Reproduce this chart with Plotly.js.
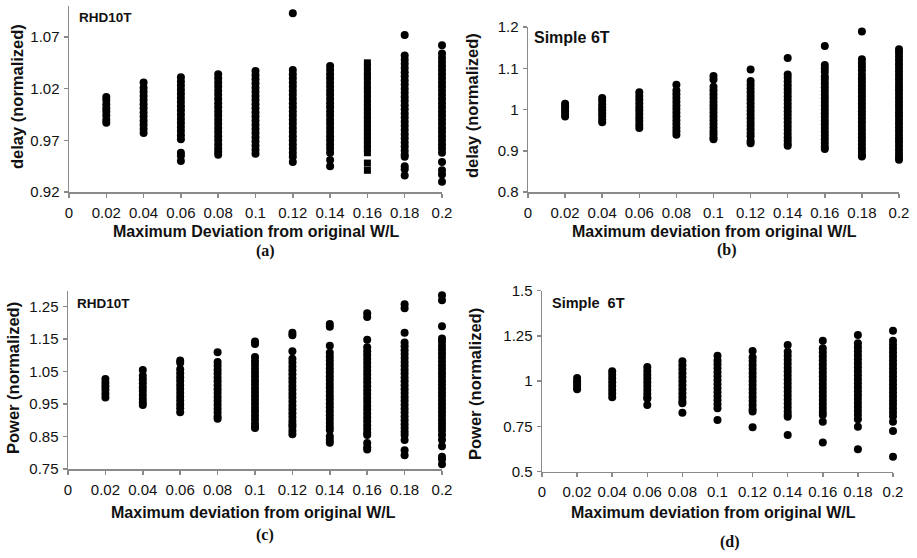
<!DOCTYPE html>
<html>
<head>
<meta charset="utf-8">
<script src="https://cdn.plot.ly/plotly-3.0.1.min.js"></script>
<style>html,body{margin:0;padding:0;background:#fff;}#chart{width:917px;height:558px;}</style>
</head>
<body>
<div id="chart"></div>
<script>
// x categories: maximum deviation from original W/L
const xVals = [0.02, 0.04, 0.06, 0.08, 0.1, 0.12, 0.14, 0.16, 0.18, 0.2];
const xTickVals = [0, 0.02, 0.04, 0.06, 0.08, 0.1, 0.12, 0.14, 0.16, 0.18, 0.2];
const xTickText = ["0", "0.02", "0.04", "0.06", "0.08", "0.1", "0.12", "0.14", "0.16", "0.18", "0.2"];

// (a) delay (normalized), RHD10T — one list per x value
const delayRHD10T = [
  [1.012,1.009,1.005,1.001,0.998,0.994,0.990,0.987],
  [1.026,1.021,1.017,1.013,1.009,1.005,1.001,0.997,0.993,0.989,0.985,0.981,0.977],
  [1.031,1.027,1.023,1.019,1.015,1.011,1.007,1.003,0.999,0.995,0.991,0.987,0.983,0.979,0.975,0.971,0.958,0.955,0.950],
  [1.034,1.030,1.026,1.022,1.018,1.014,1.010,1.006,1.002,0.998,0.994,0.990,0.986,0.982,0.978,0.974,0.970,0.966,0.962,0.959,0.956],
  [1.037,1.033,1.029,1.025,1.021,1.017,1.013,1.009,1.005,1.001,0.997,0.993,0.989,0.985,0.981,0.977,0.973,0.969,0.965,0.961,0.957],
  [1.093,1.038,1.034,1.030,1.026,1.022,1.018,1.014,1.010,1.006,1.002,0.998,0.994,0.990,0.986,0.982,0.978,0.974,0.970,0.966,0.962,0.958,0.954,0.949],
  [1.042,1.038,1.034,1.030,1.026,1.022,1.018,1.014,1.010,1.006,1.002,0.998,0.994,0.990,0.986,0.982,0.978,0.974,0.970,0.966,0.962,0.958,0.951,0.945],
  [1.045,1.041,1.036,1.032,1.028,1.023,1.019,1.015,1.010,1.006,1.002,0.998,0.994,0.990,0.986,0.982,0.978,0.974,0.970,0.966,0.962,0.958,0.948,0.941],
  [1.072,1.052,1.048,1.044,1.040,1.036,1.032,1.028,1.024,1.020,1.016,1.012,1.008,1.004,1.000,0.996,0.992,0.988,0.984,0.980,0.976,0.972,0.968,0.964,0.960,0.956,0.954,0.945,0.942,0.936],
  [1.062,1.054,1.050,1.046,1.042,1.038,1.034,1.030,1.026,1.022,1.018,1.014,1.010,1.006,1.002,0.998,0.994,0.990,0.986,0.982,0.978,0.974,0.970,0.966,0.962,0.958,0.949,0.941,0.937,0.930]
];

// (b) delay (normalized), Simple 6T
const delaySimple6T = [
  [1.014,1.008,1.001,0.995,0.989,0.983],
  [1.028,1.021,1.013,1.005,0.998,0.991,0.984,0.976,0.969],
  [1.042,1.033,1.024,1.015,1.006,0.998,0.989,0.980,0.972,0.963,0.955],
  [1.060,1.046,1.037,1.028,1.019,1.010,1.001,0.992,0.983,0.974,0.965,0.956,0.947,0.939],
  [1.081,1.073,1.055,1.046,1.037,1.028,1.019,1.010,1.001,0.992,0.983,0.974,0.965,0.956,0.947,0.940,0.932,0.928],
  [1.097,1.069,1.060,1.051,1.042,1.033,1.024,1.015,1.006,0.997,0.988,0.979,0.970,0.961,0.952,0.943,0.935,0.924,0.918],
  [1.125,1.085,1.077,1.068,1.059,1.050,1.041,1.032,1.023,1.014,1.005,0.996,0.987,0.978,0.969,0.960,0.951,0.942,0.933,0.925,0.917,0.912],
  [1.154,1.108,1.100,1.091,1.080,1.072,1.063,1.054,1.045,1.036,1.027,1.018,1.009,1.000,0.991,0.982,0.973,0.964,0.955,0.946,0.937,0.928,0.919,0.910,0.904],
  [1.189,1.122,1.113,1.104,1.095,1.085,1.076,1.067,1.058,1.050,1.041,1.032,1.023,1.014,1.005,0.996,0.987,0.978,0.969,0.960,0.951,0.942,0.933,0.924,0.915,0.906,0.898,0.890,0.886],
  [1.146,1.138,1.129,1.120,1.110,1.101,1.092,1.083,1.074,1.065,1.056,1.047,1.038,1.029,1.020,1.011,1.002,0.993,0.984,0.975,0.966,0.957,0.948,0.939,0.930,0.921,0.912,0.903,0.894,0.885,0.878]
];

// (c) power (normalized), RHD10T
const powerRHD10T = [
  [1.027,1.016,1.005,0.994,0.982,0.970],
  [1.055,1.037,1.026,1.014,1.002,0.990,0.978,0.966,0.955,0.947],
  [1.084,1.077,1.057,1.045,1.033,1.021,1.009,0.997,0.985,0.973,0.961,0.949,0.937,0.925],
  [1.110,1.080,1.068,1.056,1.044,1.032,1.020,1.008,0.996,0.984,0.972,0.960,0.948,0.936,0.924,0.912,0.905],
  [1.143,1.135,1.095,1.083,1.071,1.059,1.047,1.035,1.023,1.011,0.999,0.987,0.975,0.963,0.951,0.939,0.927,0.915,0.903,0.890,0.880,0.876],
  [1.170,1.162,1.113,1.090,1.078,1.066,1.054,1.042,1.030,1.018,1.006,0.994,0.982,0.970,0.958,0.946,0.934,0.922,0.910,0.898,0.888,0.880,0.868,0.857],
  [1.197,1.188,1.130,1.108,1.096,1.084,1.072,1.060,1.048,1.036,1.024,1.012,1.000,0.988,0.976,0.964,0.952,0.940,0.928,0.916,0.904,0.892,0.880,0.870,0.851,0.840,0.831],
  [1.230,1.218,1.148,1.125,1.113,1.101,1.089,1.077,1.065,1.053,1.041,1.029,1.017,1.005,0.993,0.981,0.969,0.957,0.945,0.933,0.921,0.909,0.897,0.885,0.873,0.862,0.855,0.830,0.817,0.810],
  [1.258,1.245,1.170,1.140,1.128,1.116,1.104,1.092,1.080,1.068,1.056,1.044,1.032,1.020,1.008,0.996,0.984,0.972,0.960,0.948,0.936,0.924,0.912,0.900,0.888,0.876,0.865,0.855,0.839,0.808,0.792],
  [1.285,1.270,1.190,1.152,1.142,1.130,1.118,1.106,1.094,1.082,1.070,1.058,1.046,1.034,1.022,1.010,0.998,0.986,0.974,0.962,0.950,0.938,0.926,0.914,0.902,0.890,0.879,0.868,0.855,0.840,0.820,0.788,0.780,0.765]
];

// (d) power (normalized), Simple 6T
const powerSimple6T = [
  [1.018,1.000,0.985,0.970,0.955],
  [1.055,1.035,1.015,0.994,0.974,0.953,0.932,0.912],
  [1.078,1.057,1.036,1.015,0.994,0.973,0.952,0.931,0.910,0.905,0.868],
  [1.110,1.088,1.066,1.044,1.022,1.000,0.978,0.956,0.934,0.912,0.890,0.878,0.826],
  [1.141,1.115,1.093,1.071,1.049,1.027,1.005,0.983,0.961,0.939,0.917,0.895,0.873,0.850,0.785],
  [1.167,1.133,1.111,1.089,1.067,1.045,1.023,1.001,0.979,0.957,0.935,0.913,0.891,0.869,0.847,0.832,0.745],
  [1.200,1.163,1.141,1.119,1.097,1.075,1.053,1.031,1.009,0.987,0.965,0.943,0.921,0.899,0.877,0.855,0.833,0.815,0.804,0.703],
  [1.224,1.182,1.160,1.138,1.116,1.094,1.072,1.050,1.028,1.006,0.984,0.962,0.940,0.918,0.896,0.874,0.852,0.830,0.813,0.776,0.662],
  [1.255,1.209,1.187,1.165,1.143,1.121,1.099,1.077,1.055,1.033,1.011,0.989,0.967,0.945,0.923,0.901,0.879,0.857,0.835,0.813,0.790,0.749,0.624],
  [1.279,1.224,1.202,1.180,1.158,1.136,1.114,1.092,1.070,1.048,1.026,1.004,0.982,0.960,0.938,0.916,0.894,0.872,0.850,0.828,0.806,0.776,0.725,0.583]
];

const W = 917, H = 558;
const MS = 8;

function flatten(cols, skip) {
  const xs = [], ys = [];
  cols.forEach((col, i) => {
    if (skip && skip.includes(i)) return;
    col.forEach(v => { xs.push(xVals[i]); ys.push(v); });
  });
  return {x: xs, y: ys};
}
function trace(cols, xa, ya, symbol, skip, only) {
  let d;
  if (only !== undefined) {
    d = {x: cols[only].map(() => xVals[only]), y: cols[only].slice()};
  } else {
    d = flatten(cols, skip);
  }
  return {
    type: 'scatter', mode: 'markers', x: d.x, y: d.y, xaxis: xa, yaxis: ya,
    cliponaxis: false, hoverinfo: 'skip',
    marker: {color: '#000', size: symbol === 'square' ? 7 : MS, symbol: symbol || 'circle', line: {width: 0}}
  };
}

const traces = [
  trace(delayRHD10T, 'x', 'y', 'circle', [7]),
  trace(delayRHD10T, 'x', 'y', 'square', null, 7),
  trace(delaySimple6T, 'x2', 'y2'),
  trace(powerRHD10T, 'x3', 'y3'),
  trace(powerSimple6T, 'x4', 'y4')
];

const tickFont = {family: 'Liberation Sans, Arial, sans-serif', size: 15, color: '#111'};
const axisLine = {showline: true, linecolor: '#8a8a8a', linewidth: 1.5, ticks: 'outside', ticklen: 4,
  tickcolor: '#8a8a8a', tickwidth: 1.5, showgrid: false, zeroline: false, tickfont: tickFont, fixedrange: true};

function xAxis(x0, x1, anchor) {
  return Object.assign({}, axisLine, {
    domain: [x0 / W, x1 / W], range: [0, 0.2], tickvals: xTickVals, ticktext: xTickText,
    anchor: anchor, ticklabelstandoff: 2
  });
}
function yAxis(y0px, y1px, range, tickvals, ticktext, anchor) {
  return Object.assign({}, axisLine, {
    domain: [1 - y0px / H, 1 - y1px / H], range: range, tickvals: tickvals, ticktext: ticktext,
    anchor: anchor, ticklabelstandoff: 1
  });
}

function ann(text, xpx, ypx, o) {
  return Object.assign({
    text: text, xref: 'paper', yref: 'paper', x: xpx / W, y: 1 - ypx / H,
    xanchor: 'center', yanchor: 'middle', showarrow: false,
    font: {family: 'Liberation Sans, Arial, sans-serif', size: 16, color: '#111', weight: 'bold'}
  }, o || {});
}
const boldF = (s) => ({family: 'Liberation Sans, Arial, sans-serif', size: s, color: '#111', weight: 'bold'});
const serifF = {family: 'Liberation Serif, Times New Roman, serif', size: 16, color: '#111', weight: 'bold'};
const yTitleF = boldF(16.5);

const layout = {
  width: W, height: H, margin: {l: 0, r: 0, t: 0, b: 0}, showlegend: false,
  paper_bgcolor: '#fff', plot_bgcolor: '#fff',
  xaxis: xAxis(69, 442, 'y'),
  yaxis: yAxis(192, 6, [0.92, 1.1], [0.92, 0.97, 1.02, 1.07], ['0.92', '0.97', '1.02', '1.07'], 'x'),
  xaxis2: xAxis(528, 899, 'y2'),
  yaxis2: yAxis(192, 27, [0.8, 1.2], [0.8, 0.9, 1, 1.1, 1.2], ['0.8', '0.9', '1', '1.1', '1.2'], 'x2'),
  xaxis3: xAxis(68, 442, 'y3'),
  yaxis3: yAxis(469, 290.5, [0.75, 1.3], [0.75, 0.85, 0.95, 1.05, 1.15, 1.25], ['0.75', '0.85', '0.95', '1.05', '1.15', '1.25'], 'x3'),
  xaxis4: xAxis(542, 893, 'y4'),
  yaxis4: yAxis(471.7, 290.7, [0.5, 1.5], [0.5, 0.75, 1, 1.25, 1.5], ['0.5', '0.75', '1', '1.25', '1.5'], 'x4'),
  annotations: [
    ann('Maximum Deviation from original W/L', 256, 231),
    ann('Maximum deviation from original W/L', 714, 231),
    ann('Maximum deviation from original W/L', 253, 512),
    ann('Maximum deviation from original W/L', 713, 512),
    ann('delay (normalized)', 17, 97, {textangle: -90, font: yTitleF}),
    ann('delay (normalized)', 472, 106, {textangle: -90, font: yTitleF}),
    ann('Power (normalized)', 13, 378, {textangle: -90, font: yTitleF}),
    ann('Power (normalized)', 475, 384, {textangle: -90, font: yTitleF}),
    ann('RHD10T', 77, 18, {xanchor: 'left', font: boldF(13.5)}),
    ann('Simple 6T', 532, 37, {xanchor: 'left', font: boldF(16)}),
    ann('RHD10T', 75, 303, {xanchor: 'left', font: boldF(13.5)}),
    ann('Simple  6T', 550, 303, {xanchor: 'left', font: boldF(14.5)}),
    ann('(a)', 265, 251, {font: serifF}),
    ann('(b)', 727, 250, {font: serifF}),
    ann('(c)', 265, 535, {font: serifF}),
    ann('(d)', 730, 542, {font: serifF})
  ]
};

Plotly.newPlot('chart', traces, layout, {staticPlot: true, displayModeBar: false});
</script>
</body>
</html>
